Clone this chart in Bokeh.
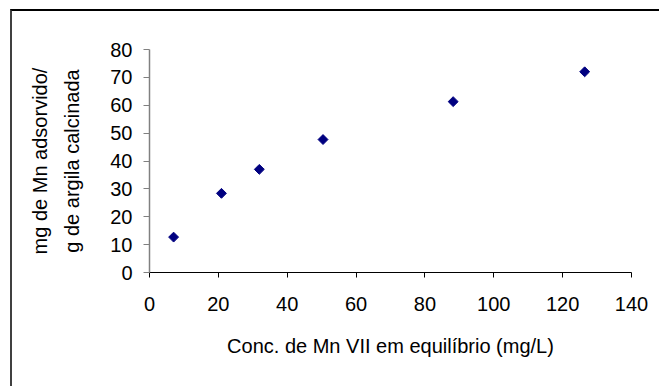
import math
from bokeh.plotting import figure
from bokeh.models import FixedTicker, Range1d
from bokeh.embed import file_html
from bokeh.resources import INLINE

conc = [7.0, 20.9, 31.9, 50.4, 88.2, 126.4]
ads = [12.7, 28.4, 37.0, 47.7, 61.3, 72.0]
x_ticks = [0, 20, 40, 60, 80, 100, 120, 140]
y_ticks = [0, 10, 20, 30, 40, 50, 60, 70, 80]
x_title = "Conc. de Mn VII em equilíbrio (mg/L)"
y_title = "mg de Mn adsorvido/\ng de argila calcinada"

W, H = 652, 380
FONT = "Liberation Sans"
FS = "20px"

p = figure(width=W, height=H, output_backend="svg", toolbar_location=None,
           x_range=Range1d(0, 140), y_range=Range1d(0, 80),
           min_border_left=137, min_border_right=33, min_border_top=38, min_border_bottom=119)
p.margin = (9, 0, 0, 10)
p.styles = {"border-left": "2px solid #404040", "border-top": "2px solid #000000",
            "border-right": "0px none", "border-bottom": "0px none"}
p.outline_line_color = None
p.xgrid.visible = False
p.ygrid.visible = False
p.background_fill_color = "white"
p.border_fill_color = "white"

p.scatter(conc, ads, marker="square", angle=math.pi / 4, size=7,
          fill_color="#000080", line_color="#000080")

xa = p.xaxis[0]
xa.ticker = FixedTicker(ticks=x_ticks)
xa.minor_tick_line_color = None
xa.major_tick_in = 0
xa.major_tick_out = 5
xa.axis_line_color = "black"
xa.major_tick_line_color = "black"
xa.major_label_text_font = FONT
xa.major_label_text_font_size = FS
xa.major_label_text_color = "black"
xa.major_label_standoff = 19
xa.axis_label = x_title
xa.axis_label_text_font = FONT
xa.axis_label_text_font_size = FS
xa.axis_label_text_font_style = "normal"
xa.axis_label_text_color = "black"
xa.axis_label_standoff = 21

ya = p.yaxis[0]
ya.ticker = FixedTicker(ticks=y_ticks)
ya.minor_tick_line_color = None
ya.major_tick_in = 0
ya.major_tick_out = 6
ya.axis_line_color = "#808080"
ya.axis_line_width = 1.5
ya.major_tick_line_color = "#808080"
ya.major_label_text_font = FONT
ya.major_label_text_font_size = FS
ya.major_label_text_color = "black"
ya.major_label_standoff = 11
ya.axis_label = y_title
ya.axis_label_text_font = FONT
ya.axis_label_text_font_size = FS
ya.axis_label_text_font_style = "normal"
ya.axis_label_text_color = "black"
ya.axis_label_text_line_height = 1.45
ya.axis_label_standoff = 24

open("out.html", "w").write(file_html(p, INLINE))
